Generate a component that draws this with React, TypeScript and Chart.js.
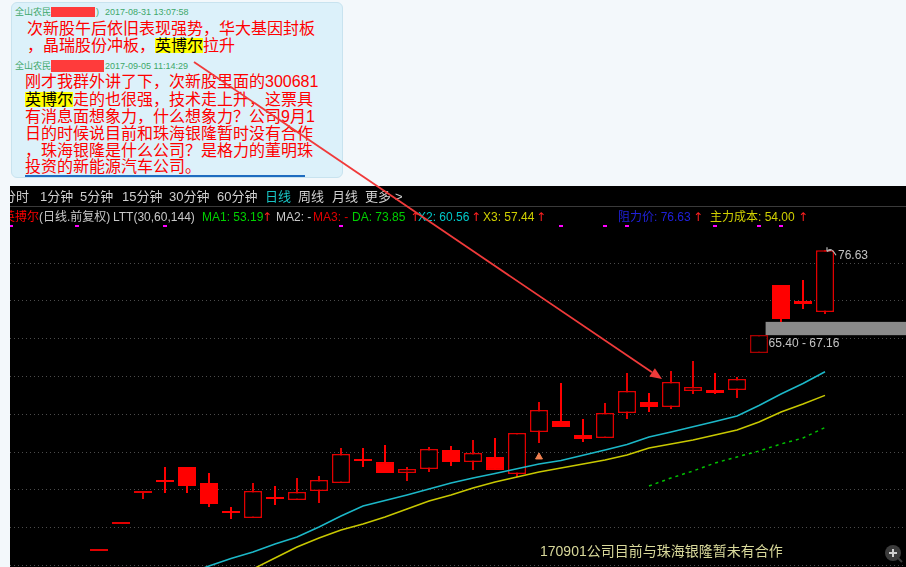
import React, { useEffect, useRef } from "react";
import { Chart, registerables } from "chart.js";

Chart.register(...registerables);

// ---------------- data ----------------
const opens = [36.85, 40.42, 44.52, 45.98, 47.96, 45.85, 41.88, 41.22, 43.73, 43.6, 44.79, 45.85, 49.02, 48.62, 47.17, 47.7, 50.21, 48.62, 49.29, 47.04, 52.59, 54.05, 52.2, 51.8, 55.11, 56.56, 55.9, 58.02, 58.15, 58.15, 63.04, 72.04, 69.92, 68.47];
const closes = [36.85, 40.42, 44.58, 46.02, 45.45, 43.07, 41.92, 44.79, 43.77, 44.66, 46.24, 49.68, 48.76, 47.17, 47.7, 50.34, 48.62, 49.81, 47.57, 52.46, 55.5, 53.25, 51.67, 55.11, 58.02, 55.9, 59.21, 58.54, 57.75, 59.6, 65.42, 67.54, 69.52, 76.63];
const highs = [36.85, 40.42, 44.66, 47.96, 47.96, 47.17, 42.67, 45.85, 45.45, 46.51, 46.77, 50.48, 50.48, 50.87, 47.96, 50.61, 50.74, 51.53, 51.8, 52.46, 56.56, 59.07, 54.31, 56.43, 60.4, 57.75, 60.66, 61.98, 60.4, 59.87, 65.42, 72.04, 72.7, 76.63];
const lows = [36.85, 40.42, 43.73, 44.52, 44.52, 42.67, 41.08, 41.22, 42.94, 43.6, 43.2, 45.85, 47.96, 47.17, 46.11, 47.3, 48.1, 47.57, 47.57, 46.64, 51.14, 53.25, 51.27, 51.8, 54.31, 55.24, 55.63, 57.62, 57.62, 57.09, 63.04, 67.14, 68.86, 68.2];
// F = filled red, H = hollow red, D = hollow dark red
const candleStyles = ["H", "H", "H", "F", "F", "F", "F", "H", "F", "H", "H", "H", "F", "F", "H", "H", "F", "H", "F", "H", "H", "F", "F", "H", "H", "F", "H", "H", "F", "H", "D", "F", "F", "H"];

const x2Line = [null, null, null, null, 33.81, 34.87, 35.86, 36.72, 37.78, 38.7, 40.03, 41.48, 42.8, 43.53, 44.26, 45.05, 45.85, 46.51, 47.1, 47.74, 48.36, 48.82, 49.51, 50.21, 50.94, 51.93, 52.59, 53.29, 53.98, 54.71, 56.1, 57.62, 59.01, 60.56];
const x3Line = [null, null, null, null, null, null, 33.28, 34.47, 35.93, 37.38, 38.57, 39.63, 40.42, 41.35, 42.41, 43.47, 44.26, 45.19, 45.98, 46.64, 47.3, 47.83, 48.36, 48.89, 49.55, 50.48, 51.01, 51.53, 52.2, 52.86, 53.92, 55.24, 56.3, 57.44];
const ma1Line = [null, null, null, null, null, null, null, null, null, null, null, null, null, null, null, null, null, null, null, null, null, null, null, null, null, 45.45, 46.51, 47.43, 48.49, 49.29, 50.08, 51.01, 51.8, 53.19];

const signalIndex = [20];
const signalPrice = [49.29];
const eventMarkerIndex = [-4, -1, 3, 11, 21, 23, 24, 28, 30, 31];
const gridLevels = [35, 40, 45, 50, 55, 60, 65, 70, 75];
const resistancePrice = 76.63;
const rangeLow = 65.4;
const rangeHigh = 67.16;
const rangeStartIndex = 30.3;
const rangeLabel = "65.40 - 67.16";
const noteText = "170901公司目前与珠海银隆暂未有合作";

const tabLabels = ["分时", "1分钟", "5分钟", "15分钟", "30分钟", "60分钟", "日线", "周线", "月线", "更多", ">"];
const tabX = [-7, 30, 70, 112, 159, 207, 255, 288, 322, 355, 385];

const msg1Lines = ["次新股午后依旧表现强势，华大基因封板"];
const msg2Lines = ["有消息面想象力，什么想象力？公司9月1", "日的时候说目前和珠海银隆暂时没有合作", "，珠海银隆是什么公司？是格力的董明珠", "投资的新能源汽车公司。"];

// ---------------- layout constants ----------------
const PANEL_W = 896;
const PANEL_H = 381;
const X_MIN = -89 / 22;
const X_MAX = X_MIN + PANEL_W / 22;
const Y_MAX = 60 + 190 / 7.56;
const Y_MIN = 60 - 191 / 7.56;

const UI_FONT = '"Liberation Sans", "Noto Sans CJK SC", sans-serif';
const ARROW_FONT = '"DejaVu Sans", sans-serif';

function T(props: any) {
  const { x, cy, size, color, children, family, h } = props;
  const H = h || Math.round(size * 1.4);
  return (
    <div
      style={{
        position: "absolute",
        left: x,
        top: cy - H / 2,
        height: H,
        lineHeight: H + "px",
        fontSize: size,
        color,
        whiteSpace: "nowrap",
        fontFamily: family || UI_FONT,
      }}
    >
      {children}
    </div>
  );
}

const hl: any = {
  color: "#000",
  backgroundImage: "linear-gradient(#ffff00, #ffff00)",
  backgroundSize: "100% 15px",
  backgroundPosition: "center",
  backgroundRepeat: "no-repeat",
};

export default function App() {
  const canvasRef = useRef<HTMLCanvasElement>(null);

  useEffect(() => {
    const canvas = canvasRef.current;
    if (!canvas) return;
    const idx = opens.map((_, i) => i);
    const colorOf = (s: string) => (s === "F" ? "#ff0000" : s === "D" ? "#a80000" : "#e00000");
    const bodies = idx.map((i) => ({ x: i, y: [Math.min(opens[i], closes[i]), Math.max(opens[i], closes[i])] }));
    const wicks = idx.map((i) => ({ x: i, y: [lows[i], highs[i]] }));
    const pts = (arr: (number | null)[]) =>
      arr.map((v, i) => (v == null ? null : { x: i, y: v })).filter((p) => p !== null);

    const overlay = {
      id: "overlay",
      beforeDatasetsDraw(chart: any) {
        const { ctx, chartArea, scales } = chart;
        const x = scales.x;
        const y = scales.y;
        ctx.save();
        ctx.strokeStyle = "#4c4c4c";
        ctx.lineWidth = 1;
        ctx.setLineDash([1, 3]);
        for (const v of gridLevels) {
          const py = Math.round(y.getPixelForValue(v)) + 0.5;
          ctx.beginPath();
          ctx.moveTo(chartArea.left, py);
          ctx.lineTo(chartArea.right, py);
          ctx.stroke();
        }
        ctx.setLineDash([]);
        const bx = x.getPixelForValue(rangeStartIndex);
        const top = y.getPixelForValue(rangeHigh);
        const bot = y.getPixelForValue(rangeLow);
        ctx.fillStyle = "#8a8a8a";
        ctx.fillRect(bx, top, chartArea.right - bx, bot - top);
        ctx.restore();
      },
      afterDatasetsDraw(chart: any) {
        const { ctx, chartArea, scales } = chart;
        const x = scales.x;
        const y = scales.y;
        ctx.save();
        // event markers row
        ctx.fillStyle = "#ff00ff";
        for (const i of eventMarkerIndex) {
          const px = Math.round(x.getPixelForValue(i));
          ctx.fillRect(px - 2, chartArea.top + 39, 4, 2);
        }
        // resistance label
        const last = opens.length - 1;
        const cx = x.getPixelForValue(last);
        const ty = y.getPixelForValue(resistancePrice);
        ctx.font = '12px "Liberation Sans", Arial, sans-serif';
        ctx.textBaseline = "middle";
        ctx.fillStyle = "#c4c4c4";
        ctx.fillText(resistancePrice.toFixed(2), cx + 13, ty + 5);
        ctx.strokeStyle = "#b8b8b8";
        ctx.lineWidth = 1.2;
        ctx.beginPath();
        ctx.moveTo(cx + 11, ty + 5);
        ctx.quadraticCurveTo(cx + 6, ty - 4, cx + 2, ty + 1);
        ctx.stroke();
        ctx.beginPath();
        ctx.moveTo(cx + 2, ty + 1);
        ctx.lineTo(cx + 2, ty - 3);
        ctx.moveTo(cx + 2, ty + 1);
        ctx.lineTo(cx + 6, ty + 0);
        ctx.stroke();
        // range label
        const bx = x.getPixelForValue(rangeStartIndex);
        ctx.fillText(rangeLabel, bx + 3, y.getPixelForValue(rangeLow) + 9);
        // note text
        ctx.font = '14px "Liberation Sans", "Noto Sans CJK SC", sans-serif';
        ctx.fillStyle = "#d8d89a";
        ctx.fillText(noteText, 530, chartArea.bottom - 15);
        // zoom icon
        const ix = chartArea.right - 13;
        const iy = chartArea.bottom - 14;
        ctx.fillStyle = "#3c3c3c";
        ctx.beginPath();
        ctx.arc(ix, iy, 8, 0, Math.PI * 2);
        ctx.fill();
        ctx.strokeStyle = "#3c3c3c";
        ctx.lineWidth = 2;
        ctx.beginPath();
        ctx.moveTo(ix + 5, iy + 5);
        ctx.lineTo(ix + 9, iy + 9);
        ctx.stroke();
        ctx.strokeStyle = "#d0d0d0";
        ctx.lineWidth = 2;
        ctx.beginPath();
        ctx.moveTo(ix - 4, iy);
        ctx.lineTo(ix + 4, iy);
        ctx.moveTo(ix, iy - 4);
        ctx.lineTo(ix, iy + 4);
        ctx.stroke();
        ctx.restore();
      },
    };

    const chart = new Chart(canvas, {
      type: "bar",
      data: {
        datasets: [
          {
            type: "line",
            label: "signal",
            data: signalIndex.map((i, k) => ({ x: i, y: signalPrice[k] })),
            showLine: false,
            pointStyle: "triangle",
            pointRadius: 4,
            pointBackgroundColor: "#f08050",
            pointBorderColor: "#f08050",
            order: 0,
          } as any,
          {
            type: "line",
            label: "X2",
            data: pts(x2Line),
            borderColor: "#1cb8c8",
            borderWidth: 1.5,
            pointRadius: 0,
            tension: 0,
            order: 1,
          } as any,
          {
            type: "line",
            label: "X3",
            data: pts(x3Line),
            borderColor: "#c8c800",
            borderWidth: 1.5,
            pointRadius: 0,
            tension: 0,
            order: 1,
          } as any,
          {
            type: "line",
            label: "MA1",
            data: pts(ma1Line),
            borderColor: "#00c000",
            borderWidth: 1.5,
            borderDash: [3, 4],
            pointRadius: 0,
            tension: 0,
            order: 1,
          } as any,
          {
            type: "bar",
            label: "body",
            data: bodies,
            backgroundColor: candleStyles.map((s) => (s === "F" ? "#ff0000" : "#000000")),
            borderColor: candleStyles.map(colorOf),
            borderWidth: candleStyles.map((s) => (s === "F" ? 1 : 1.5)),
            borderSkipped: false,
            barThickness: 18,
            minBarLength: 2,
            grouped: false,
            inflateAmount: 0,
            order: 2,
          } as any,
          {
            type: "bar",
            label: "wick",
            data: wicks,
            backgroundColor: candleStyles.map(colorOf),
            borderWidth: 0,
            barThickness: 2,
            grouped: false,
            inflateAmount: 0,
            order: 3,
          } as any,
        ],
      },
      options: {
        animation: false,
        responsive: false,
        maintainAspectRatio: false,
        devicePixelRatio: 1,
        events: [],
        layout: { padding: 0, autoPadding: false },
        plugins: { legend: { display: false }, tooltip: { enabled: false } },
        scales: {
          x: { type: "linear", min: X_MIN, max: X_MAX, display: false, offset: false },
          y: { type: "linear", min: Y_MIN, max: Y_MAX, display: false },
        },
      } as any,
      plugins: [overlay as any],
    });
    return () => chart.destroy();
  }, []);

  const dx = 10;
  const dy = 186;
  const cx = (px: number) => px - dx;

  return (
    <div
      style={{
        position: "fixed",
        left: 0,
        top: 0,
        width: 906,
        height: 567,
        overflow: "hidden",
        background: "#f3f8fb",
        fontFamily: UI_FONT,
      }}
    >
      {/* chat bubble */}
      <div
        style={{
          position: "absolute",
          left: 11,
          top: 2,
          width: 330,
          height: 174,
          background: "#dcf1fa",
          border: "1px solid #c8e3ef",
          borderRadius: 6,
        }}
      />
      <T x={15} cy={12} size={9} color="#3ea86a">全山农民</T>
      <div style={{ position: "absolute", left: 51, top: 7, width: 44, height: 10, background: "#ff3b3b" }} />
      <T x={96} cy={12} size={9} color="#3ea86a">)</T>
      <T x={105} cy={12} size={9} color="#3ea86a">2017-08-31 13:07:58</T>
      <T x={27} cy={28.5} size={16} color="#ff0000" h={18}>{msg1Lines[0]}</T>
      <T x={27} cy={46} size={16} color="#ff0000" h={18}>
        ，晶瑞股份冲板，<span style={hl}>英博尔</span>拉升
      </T>
      <T x={15} cy={66} size={9} color="#3ea86a">全山农民</T>
      <div style={{ position: "absolute", left: 51, top: 60, width: 53, height: 12, background: "#ff3b3b" }} />
      <T x={105} cy={66} size={9} color="#3ea86a">2017-09-05 11:14:29</T>
      <T x={25} cy={82} size={16} color="#ff0000" h={18}>刚才我群外讲了下，次新股里面的300681</T>
      <T x={25} cy={99.5} size={16} color="#ff0000" h={18}>
        <span style={hl}>英博尔</span>走的也很强，技术走上升，这票具
      </T>
      {msg2Lines.map((s, k) => (
        <T key={k} x={25} cy={117 + k * 16.8} size={16} color="#ff0000" h={18}>{s}</T>
      ))}
      <div style={{ position: "absolute", left: 25, top: 175, width: 280, height: 2, background: "#1e6cc0" }} />

      {/* black chart panel */}
      <div
        style={{
          position: "absolute",
          left: dx,
          top: dy,
          width: PANEL_W,
          height: PANEL_H,
          background: "#000",
          overflow: "hidden",
        }}
      >
        <canvas
          ref={canvasRef}
          width={PANEL_W}
          height={PANEL_H}
          style={{ position: "absolute", left: 0, top: 0, width: PANEL_W, height: PANEL_H }}
        />
        {tabLabels.map((t, k) => (
          <T key={t} x={tabX[k]} cy={11} size={13} color={t === "日线" ? "#18c4c4" : "#cfcfcf"}>{t}</T>
        ))}
        <div style={{ position: "absolute", left: 0, top: 20, width: PANEL_W, height: 1, background: "#3a3a3a" }} />
        <T x={-7} cy={31} size={12} color="#ff0000">英搏尔</T>
        <T x={cx(39)} cy={31} size={12} color="#c8c8c8">(日线.前复权)</T>
        <T x={cx(113)} cy={31} size={12} color="#c8c8c8">LTT(30,60,144)</T>
        <T x={cx(202)} cy={31} size={12} color="#00d000">MA1: 53.19</T>
        <T x={cx(262)} cy={31} size={12} color="#ff2020" family={ARROW_FONT}>↑</T>
        <T x={cx(276)} cy={31} size={12} color="#c8c8c8">MA2: -</T>
        <T x={cx(313)} cy={31} size={12} color="#e00000">MA3: -</T>
        <T x={cx(352)} cy={31} size={12} color="#00d000">DA: 73.85</T>
        <T x={cx(410)} cy={31} size={12} color="#ff2020" family={ARROW_FONT}>↑</T>
        <T x={cx(418)} cy={31} size={12} color="#00c8c8">X2: 60.56</T>
        <T x={cx(471)} cy={31} size={12} color="#ff2020" family={ARROW_FONT}>↑</T>
        <T x={cx(483)} cy={31} size={12} color="#d0d000">X3: 57.44</T>
        <T x={cx(536)} cy={31} size={12} color="#ff2020" family={ARROW_FONT}>↑</T>
        <T x={cx(618)} cy={31} size={12} color="#2020d8">阻力价: 76.63</T>
        <T x={cx(693)} cy={31} size={12} color="#ff2020" family={ARROW_FONT}>↑</T>
        <T x={cx(710)} cy={31} size={12} color="#d0d000">主力成本: 54.00</T>
        <T x={cx(798)} cy={31} size={12} color="#ff2020" family={ARROW_FONT}>↑</T>
      </div>

      {/* annotation arrow */}
      <svg
        width={906}
        height={567}
        style={{ position: "absolute", left: 0, top: 0, pointerEvents: "none" }}
      >
        <line x1={194} y1={62} x2={652} y2={372.3} stroke="#f03a3a" strokeWidth={1.8} />
        <polygon points="662,379 649.3,376.4 654.9,368.2" fill="#f03a3a" />
      </svg>
    </div>
  );
}
